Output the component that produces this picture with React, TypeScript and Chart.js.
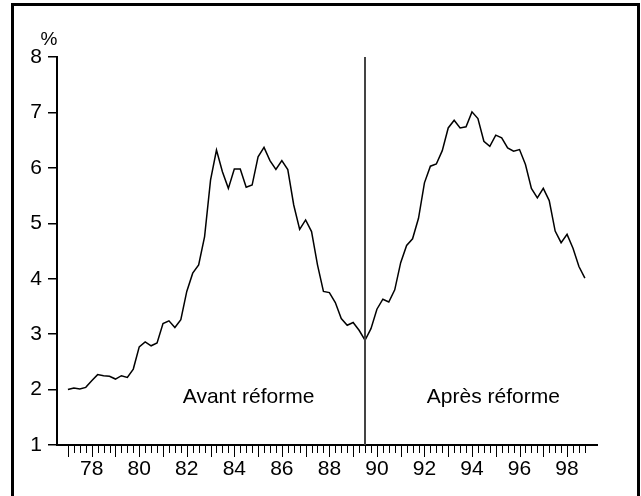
import React, { useEffect, useRef } from 'react';
import { Chart, registerables } from 'chart.js';

Chart.register(...registerables);

// Quarterly series, 1977Q1 .. 1998Q4 (in %)
const startYear = 77;
const rates = [
  2.00, 2.03, 2.01, 2.04, 2.16, 2.27, 2.25, 2.24,
  2.19, 2.25, 2.22, 2.37, 2.77, 2.86, 2.79, 2.84,
  3.19, 3.24, 3.12, 3.26, 3.77, 4.10, 4.25, 4.76,
  5.78, 6.32, 5.93, 5.63, 5.98, 5.98, 5.65, 5.69,
  6.20, 6.37, 6.13, 5.97, 6.13, 5.97, 5.33, 4.89,
  5.06, 4.85, 4.25, 3.77, 3.75, 3.57, 3.28, 3.16,
  3.21, 3.07, 2.89, 3.10, 3.45, 3.63, 3.58, 3.80,
  4.29, 4.60, 4.72, 5.09, 5.73, 6.03, 6.07, 6.31,
  6.72, 6.86, 6.72, 6.74, 7.01, 6.89, 6.48, 6.39,
  6.59, 6.54, 6.36, 6.30, 6.33, 6.06, 5.63, 5.46,
  5.63, 5.41, 4.86, 4.65, 4.80, 4.55, 4.22, 4.01,
];

const yTickValues = [1, 2, 3, 4, 5, 6, 7, 8];
const xLabelYears = [78, 80, 82, 84, 86, 88, 90, 92, 94, 96, 98];
const xLabels = ['78', '80', '82', '84', '86', '88', '90', '92', '94', '96', '98'];
const xMin = 76.54;
const xMax = 99.26;
const yMin = 1;
const yMax = 8;
const reformDate = 89.5;
const unitLabel = '%';
const periodTexts = ['Avant réforme', 'Après réforme'];
const periodTextX = [84.6, 94.9];
const periodTextY = [1.87, 1.87];

const FONT = '"Liberation Sans", Arial, Helvetica, sans-serif';

const decorPlugin = {
  id: 'decor',
  afterDatasetsDraw(chart: any) {
    const { ctx, chartArea, scales } = chart;
    const x = scales.x;
    const y = scales.y;
    ctx.save();
    // quarterly ticks on x axis
    ctx.strokeStyle = '#000';
    ctx.lineWidth = 1;
    for (let k = 0; k < rates.length; k++) {
      const v = startYear + k / 4;
      const px = Math.round(x.getPixelForValue(v)) + 0.5;
      const len = k % 4 === 0 ? 12 : 8;
      ctx.beginPath();
      ctx.moveTo(px, chartArea.bottom);
      ctx.lineTo(px, chartArea.bottom + len);
      ctx.stroke();
    }
    // reform vertical line
    const rx = Math.round(x.getPixelForValue(reformDate));
    ctx.strokeStyle = '#444';
    ctx.lineWidth = 2;
    ctx.beginPath();
    ctx.moveTo(rx, y.getPixelForValue(yMax));
    ctx.lineTo(rx, y.getPixelForValue(yMin));
    ctx.stroke();
    // period texts
    ctx.fillStyle = '#000';
    ctx.font = `21px ${FONT}`;
    ctx.textAlign = 'center';
    ctx.textBaseline = 'middle';
    for (let i = 0; i < periodTexts.length; i++) {
      ctx.fillText(periodTexts[i], x.getPixelForValue(periodTextX[i]), y.getPixelForValue(periodTextY[i]));
    }
    // unit label
    ctx.font = `19px ${FONT}`;
    ctx.fillText(unitLabel, chartArea.left - 8, chartArea.top - 17);
    ctx.restore();
  },
};

export default function App() {
  const ref = useRef<HTMLCanvasElement | null>(null);

  useEffect(() => {
    if (!ref.current) return;
    const chart = new Chart(ref.current, {
      type: 'line',
      data: {
        datasets: [
          {
            data: rates.map((r, k) => ({ x: startYear + k / 4, y: r })),
            borderColor: '#000',
            borderWidth: 1.5,
            pointRadius: 0,
            tension: 0,
            fill: false,
          },
        ],
      },
      options: {
        animation: false,
        responsive: false,
        layout: { padding: { top: 57, right: 44, left: 0, bottom: 0 } },
        plugins: { legend: { display: false }, tooltip: { enabled: false } },
        scales: {
          x: {
            type: 'linear',
            min: xMin,
            max: xMax,
            afterBuildTicks: (s: any) => {
              s.ticks = xLabelYears.map((v) => ({ value: v }));
            },
            afterFit: (s: any) => {
              s.height = 51;
            },
            ticks: {
              callback: (v: any) => {
                const i = xLabelYears.indexOf(Number(v));
                return i >= 0 ? xLabels[i] : '';
              },
              font: { family: FONT, size: 21 },
              color: '#000',
              maxRotation: 0,
              autoSkip: false,
              padding: 0,
            },
            grid: { drawOnChartArea: false, color: 'rgba(0,0,0,0)', tickLength: 12 },
            border: { display: true, color: '#000', width: 2 },
          },
          y: {
            min: yMin,
            max: yMax,
            afterBuildTicks: (s: any) => {
              s.ticks = yTickValues.map((v) => ({ value: v }));
            },
            afterFit: (s: any) => {
              s.width = 57;
            },
            ticks: {
              font: { family: FONT, size: 21 },
              color: '#000',
              padding: 6,
            },
            grid: { drawOnChartArea: false, color: '#000', tickLength: 9, lineWidth: 1.5 },
            border: { display: true, color: '#000', width: 2 },
          },
        },
      },
      plugins: [decorPlugin],
    });
    return () => chart.destroy();
  }, []);

  return (
    <div style={{ position: 'fixed', left: 0, top: 0, width: 641, height: 496, background: '#fff' }}>
      <canvas ref={ref} width={641} height={496} style={{ display: 'block' }} />
      <div
        style={{
          position: 'absolute',
          left: 11,
          top: 3,
          width: 629,
          height: 520,
          border: '3px solid #000',
          boxSizing: 'border-box',
          pointerEvents: 'none',
        }}
      />
    </div>
  );
}
